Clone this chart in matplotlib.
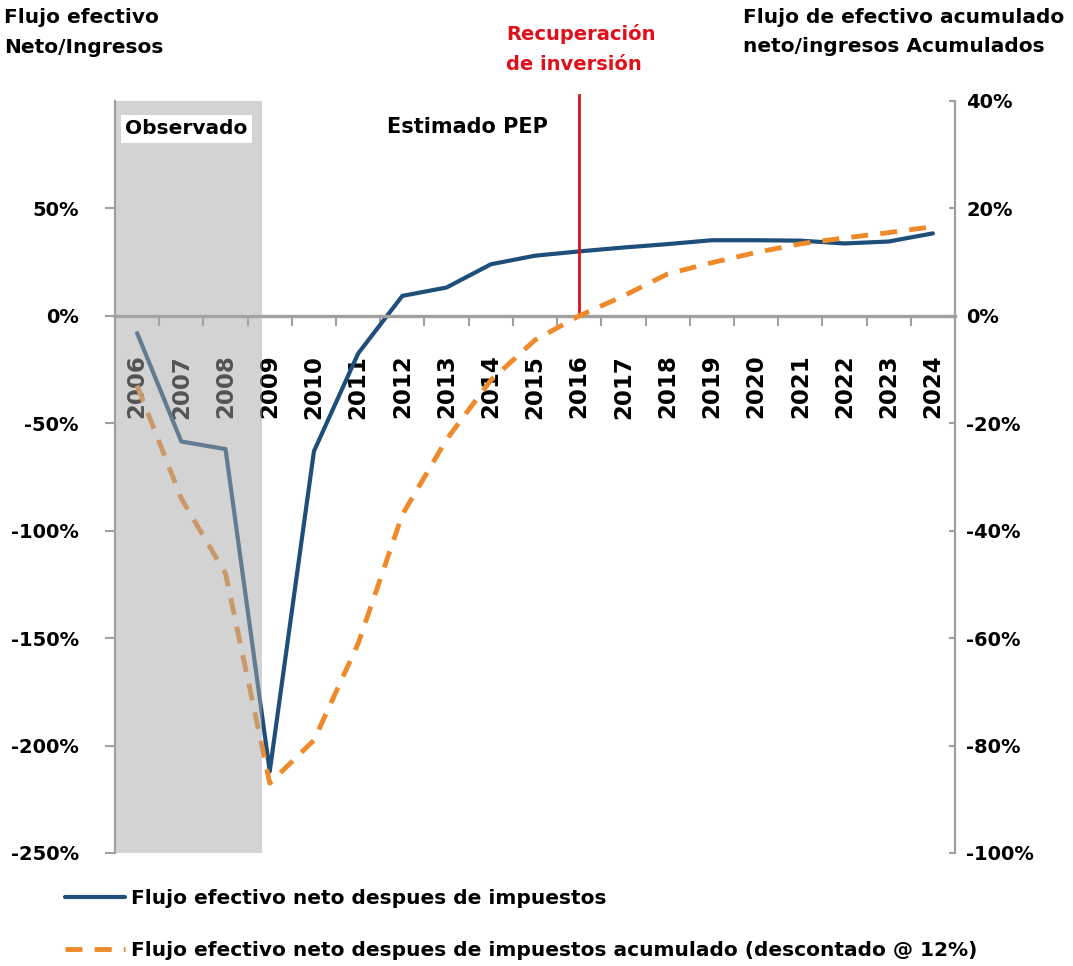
import matplotlib
matplotlib.use('Agg')
import matplotlib.pyplot as plt

# ---------------- data ----------------
years = list(range(2006, 2025))
flujo_neto = [-8, -58.5, -62, -212, -63, -17.5, 9.3, 13.2, 24, 28, 30, 31.8,
              33.4, 35.2, 35.2, 35, 33.7, 34.6, 38.4]          # left axis (%)
flujo_acum = [-13, -34, -48, -87, -79, -61, -37, -23, -12, -4.5, 0, 3.7,
              7.8, 9.9, 11.8, 13.4, 14.5, 15.5, 16.6]          # right axis (%)
year_labels = [str(y) for y in years]
left_ticks = [-250, -200, -150, -100, -50, 0, 50]
right_ticks = [-100, -80, -60, -40, -20, 0, 20, 40]
observado_end = 2008.83
recuperacion_year = 2016

label_neto = "Flujo efectivo neto despues de impuestos"
label_acum = "Flujo efectivo neto despues de impuestos acumulado (descontado @ 12%)"

# ---------------- style ----------------
plt.rcParams['font.family'] = ['DejaVu Sans']
plt.rcParams['font.weight'] = 'bold'

BLUE = '#1f4e7a'
ORANGE = '#ee8a2a'
RED = '#e0101a'
GRAY = '#a0a0a0'

W, H = 1073, 966
fig = plt.figure(figsize=(W / 100, H / 100), dpi=100)


def fx(px):
    return px / W


def fy(py):
    return 1 - py / H


ax = fig.add_axes([fx(115), fy(853), fx(955) - fx(115), fy(101) - fy(853)])
ax2 = ax.twinx()

ax.set_xlim(2005.5, 2024.5)
ax.set_ylim(-250, 100)
ax2.set_ylim(-100, 40)

# lines
l1, = ax.plot(years, flujo_neto, color=BLUE, lw=3, solid_joinstyle='round',
              solid_capstyle='round', zorder=3)
l2, = ax2.plot(years, flujo_acum, color=ORANGE, lw=3.5, dashes=(3.5, 2.5),
               zorder=3)

# observed period shading (translucent, on top of lines)
ax2.axvspan(2005.5, observado_end, color='#a8a8a8', alpha=0.5, lw=0, zorder=5)

# payback line
ax.plot([recuperacion_year, recuperacion_year], [0, 103], color=RED, lw=2,
        clip_on=False, zorder=4)

# spines
for s in ['top', 'right']:
    ax.spines[s].set_visible(False)
ax.spines['left'].set_visible(False)
ax.spines['bottom'].set_position(('data', 0))
ax.spines['bottom'].set_color(GRAY)
ax.spines['bottom'].set_linewidth(2.4)
ax.spines['bottom'].set_zorder(6)

ax2.spines['top'].set_visible(False)
ax2.spines['bottom'].set_visible(False)
ax2.spines['left'].set_color(GRAY)
ax2.spines['left'].set_linewidth(1.6)
ax2.spines['left'].set_zorder(10)
ax2.spines['right'].set_color(GRAY)
ax2.spines['right'].set_linewidth(1.6)

# x ticks
ax.set_xticks(years)
ax.set_xticklabels(year_labels, rotation=90, fontsize=16.5, fontweight='bold')
ax.set_xticks([y + 0.5 for y in years[:-1]], minor=True)
ax.tick_params(axis='x', which='major', length=0, pad=28)
ax.tick_params(axis='x', which='minor', length=7, width=1.5, color=GRAY,
               direction='out')

# left y ticks
ax.set_yticks(left_ticks)
ax.set_yticklabels([f"{v}%" for v in left_ticks], fontsize=14, fontweight='bold')
ax.tick_params(axis='y', length=7, width=1.5, color=GRAY, pad=19)

# right y ticks
ax2.set_yticks(right_ticks)
ax2.set_yticklabels([f"{v}%" for v in right_ticks], fontsize=14, fontweight='bold')
ax2.tick_params(axis='y', direction='in', length=4, width=1.5, color=GRAY, pad=8)

# titles & annotations
fig.text(fx(4), fy(8), "Flujo efectivo\nNeto/Ingresos", ha='left', va='top',
         fontsize=14.5, fontweight='bold', linespacing=1.75)
fig.text(fx(743), fy(8), "Flujo de efectivo acumulado\nneto/ingresos Acumulados",
         ha='left', va='top', fontsize=14.5, fontweight='bold', linespacing=1.65)
fig.text(fx(506), fy(24), "Recuperación\nde inversión", ha='left', va='top',
         fontsize=14, fontweight='bold', color=RED, linespacing=1.7)
fig.text(fx(125), fy(129), "Observado", ha='left', va='center', fontsize=14.5,
         fontweight='bold', zorder=20,
         bbox=dict(facecolor='white', edgecolor='none', pad=3))
fig.text(fx(387), fy(127), "Estimado PEP", ha='left', va='center', fontsize=15,
         fontweight='bold')

# legend
fig.legend([l1, l2], [label_neto, label_acum], loc='upper left',
           bbox_to_anchor=(fx(65), fy(889)), frameon=False,
           prop=dict(weight='bold', size=14.5), handlelength=3,
           handletextpad=0.3, labelspacing=1.65, borderpad=0, borderaxespad=0)

fig.savefig('out.png', dpi=100)
